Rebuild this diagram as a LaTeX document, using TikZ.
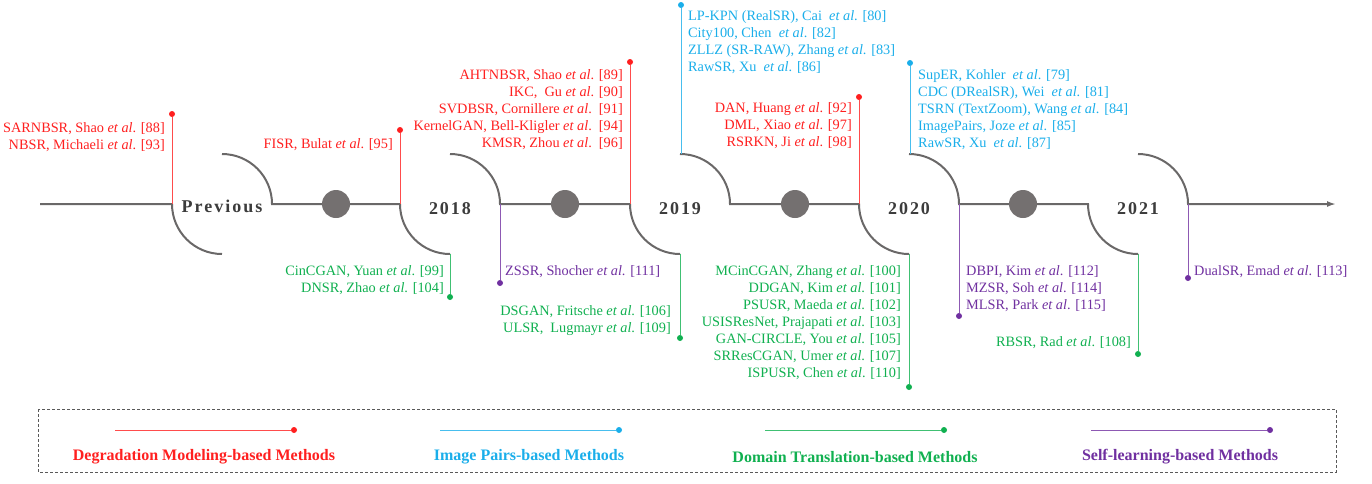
\documentclass[tikz,border=0pt]{standalone}
\usepackage{fontspec}
\setmainfont{Liberation Serif}
\usetikzlibrary{arrows.meta}
\definecolor{cred}{HTML}{FF1F1F}
\definecolor{cblue}{HTML}{1AAEEA}
\definecolor{cgreen}{HTML}{10B050}
\definecolor{cpurple}{HTML}{7030A0}
\definecolor{tline}{HTML}{6A6868}
\definecolor{tdot}{HTML}{747070}
\definecolor{yeartxt}{HTML}{3C3C3C}
\newcommand{\ea}{\textit{et al}.}
\begin{document}
\begin{tikzpicture}[x=1pt,y=1pt,
 tl/.style={draw=tline, line width=2pt},
 hub/.style={circle, fill=tdot, minimum size=28pt, inner sep=0pt},
 dotm/.style={circle, fill=#1, minimum size=6pt, inner sep=0pt},
 stem/.style={draw=#1!80, line width=0.9pt},
 lblR/.style={anchor=north east, align=right, inner sep=0pt, text=#1, font=\fontsize{14.3}{17}\selectfont},
 lblL/.style={anchor=north west, align=left, inner sep=0pt, text=#1, font=\fontsize{14.3}{17}\selectfont},
 year/.style={anchor=base, inner sep=0pt, text=yeartxt, font=\bfseries\fontsize{18}{20}\selectfont\addfontfeature{LetterSpace=11}},
 leg/.style={anchor=center, inner sep=0pt, text=#1, font=\bfseries\fontsize{16}{18}\selectfont},
 legbox/.style={draw=black!65, line width=0.8pt, dash pattern=on 3pt off 2pt}
]
\useasboundingbox (0,0) rectangle (1372,-483);

% timeline
\draw[tl] (40,-204) -- (172,-204) arc[start angle=180,end angle=270,radius=50];
\draw[tl] (222,-154) arc[start angle=90,end angle=0,radius=50] -- (400,-204) arc[start angle=180,end angle=270,radius=50];
\draw[tl] (450,-154) arc[start angle=90,end angle=0,radius=50] -- (630,-204) arc[start angle=180,end angle=270,radius=50];
\draw[tl] (680,-154) arc[start angle=90,end angle=0,radius=50] -- (859,-204) arc[start angle=180,end angle=270,radius=50];
\draw[tl] (909,-154) arc[start angle=90,end angle=0,radius=50] -- (1088,-204) arc[start angle=180,end angle=270,radius=50];
\draw[tl,-{Latex[length=9pt,width=6pt]}] (1138,-154) arc[start angle=90,end angle=0,radius=50] -- (1336,-204);

\node[hub] (h1) at (336,-204) {};
\node[hub] (h2) at (565,-204) {};
\node[hub] (h3) at (795,-204) {};
\node[hub] (h4) at (1023,-204) {};

\node[year] (y0) at (222,-212) {Previous};
\node[year] (y1) at (450,-214) {2018};
\node[year] (y2) at (680,-214) {2019};
\node[year] (y3) at (909,-214) {2020};
\node[year] (y4) at (1138,-214) {2021};

% stems
\coordinate (t1) at (172,-204);  \node[dotm=cred] (d1) at (172,-114) {};
\coordinate (t2) at (400,-204);  \node[dotm=cred] (d2) at (400,-130) {};
\coordinate (t3) at (450,-254);  \node[dotm=cgreen] (d3) at (450,-297) {};
\coordinate (t4) at (500,-204);  \node[dotm=cpurple] (d4) at (500,-283) {};
\coordinate (t5) at (630,-204);  \node[dotm=cred] (d5) at (630,-62) {};
\coordinate (t6) at (680,-254);  \node[dotm=cgreen] (d6) at (680,-338) {};
\coordinate (t7) at (681,-154);  \node[dotm=cblue] (d7) at (681,-5) {};
\coordinate (t8) at (859,-204);  \node[dotm=cred] (d8) at (859,-97) {};
\coordinate (t9) at (909,-254);  \node[dotm=cgreen] (d9) at (909,-387) {};
\coordinate (t10) at (910,-154); \node[dotm=cblue] (d10) at (910,-63) {};
\coordinate (t11) at (959,-204); \node[dotm=cpurple] (d11) at (959,-316) {};
\coordinate (t12) at (1138,-254);\node[dotm=cgreen] (d12) at (1138,-354) {};
\coordinate (t13) at (1188,-204);\node[dotm=cpurple] (d13) at (1188,-278) {};

\draw[stem=cred] (d1) -- (t1);
\draw[stem=cred] (d2) -- (t2);
\draw[stem=cgreen] (d3) -- (t3);
\draw[stem=cpurple] (d4) -- (t4);
\draw[stem=cred] (d5) -- (t5);
\draw[stem=cgreen] (d6) -- (t6);
\draw[stem=cblue] (d7) -- (t7);
\draw[stem=cred] (d8) -- (t8);
\draw[stem=cgreen] (d9) -- (t9);
\draw[stem=cblue] (d10) -- (t10);
\draw[stem=cpurple] (d11) -- (t11);
\draw[stem=cgreen] (d12) -- (t12);
\draw[stem=cpurple] (d13) -- (t13);

% labels
\node[lblR=cred] (l1) at (165,-122.5) {SARNBSR, Shao \ea{} [88]\\NBSR, Michaeli \ea{} [93]};
\node[lblR=cred] (l2) at (393,-138.5) {FISR, Bulat \ea{} [95]};
\node[lblR=cgreen] (l3) at (444,-265.5) {CinCGAN, Yuan \ea{} [99]\\DNSR, Zhao \ea{} [104]};
\node[lblL=cpurple] (l4) at (505,-265.5) {ZSSR, Shocher \ea{} [111]};
\node[lblR=cred] (l5) at (623,-69.5) {AHTNBSR, Shao \ea{} [89]\\IKC,\ \ Gu \ea{} [90]\\SVDBSR, Cornillere \ea\ \ [91]\\KernelGAN, Bell-Kligler \ea\ \ [94]\\KMSR, Zhou \ea\ \ [96]};
\node[lblR=cgreen] (l6) at (671,-305.5) {DSGAN, Fritsche \ea{} [106]\\ULSR,\ \ Lugmayr \ea{} [109]};
\node[lblL=cblue] (l7) at (688,-10.5) {LP-KPN (RealSR), Cai\ \ \ea{} [80]\\City100, Chen\ \ \ea{} [82]\\ZLLZ (SR-RAW), Zhang \ea{} [83]\\RawSR, Xu\ \ \ea{} [86]};
\node[lblR=cred] (l8) at (852,-102.5) {DAN, Huang \ea{} [92]\\DML, Xiao \ea{} [97]\\RSRKN, Ji \ea{} [98]};
\node[lblR=cgreen] (l9) at (901,-265.5) {MCinCGAN, Zhang \ea{} [100]\\DDGAN, Kim \ea{} [101]\\PSUSR, Maeda \ea{} [102]\\USISResNet, Prajapati \ea{} [103]\\GAN-CIRCLE, You \ea{} [105]\\SRResCGAN, Umer \ea{} [107]\\ISPUSR, Chen \ea{} [110]};
\node[lblL=cblue] (l10) at (918,-69.5) {SupER, Kohler\ \ \ea{} [79]\\CDC (DRealSR), Wei\ \ \ea{} [81]\\TSRN (TextZoom), Wang \ea{} [84]\\ImagePairs, Joze \ea{} [85]\\RawSR, Xu\ \ \ea{} [87]};
\node[lblL=cpurple] (l11) at (966,-265.5) {DBPI, Kim \ea{} [112]\\MZSR, Soh \ea{} [114]\\MLSR, Park \ea{} [115]};
\node[lblR=cgreen] (l12) at (1131,-336.5) {RBSR, Rad \ea{} [108]};
\node[lblL=cpurple] (l13) at (1194,-265.5) {DualSR, Emad \ea{} [113]};

% legend
\draw[legbox] (38,-409) rectangle (1336,-472);
\coordinate (g1) at (115,-430); \node[dotm=cred] (gd1) at (294,-430) {};
\coordinate (g2) at (440,-430); \node[dotm=cblue] (gd2) at (619,-430) {};
\coordinate (g3) at (765,-430); \node[dotm=cgreen] (gd3) at (944,-430) {};
\coordinate (g4) at (1091,-430); \node[dotm=cpurple] (gd4) at (1270,-430) {};
\draw[stem=cred] (g1) -- (gd1);
\draw[stem=cblue] (g2) -- (gd2);
\draw[stem=cgreen] (g3) -- (gd3);
\draw[stem=cpurple] (g4) -- (gd4);
\node[leg=cred] (n1) at (204,-457) {Degradation Modeling-based Methods};
\node[leg=cblue] (n2) at (529,-457) {Image Pairs-based Methods};
\node[leg=cgreen] (n3) at (855,-457) {Domain Translation-based Methods};
\node[leg=cpurple] (n4) at (1180,-457) {Self-learning-based Methods};
\end{tikzpicture}
\end{document}
